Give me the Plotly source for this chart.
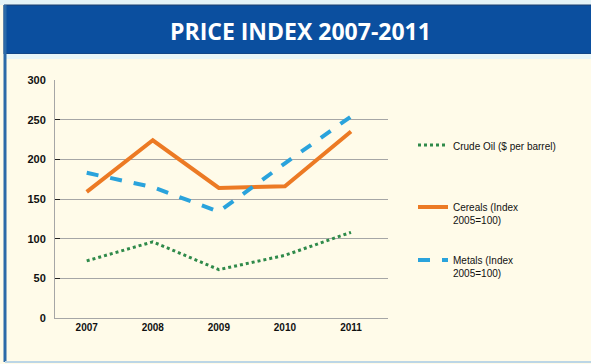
import plotly.graph_objects as go

years = ["2007", "2008", "2009", "2010", "2011"]
crude_oil = [72, 96, 61, 79, 108]
cereals = [159, 224, 164, 166, 235]
metals = [183, 165, 134, 195, 254]
y_ticks = [0, 50, 100, 150, 200, 250, 300]

W, H = 591, 364
L, R, T, B = 55, 203, 80, 46
pw, ph = W - L - R, H - T - B

def px_x(x):
    return (x - L) / pw

def px_y(y):
    return (H - B - y) / ph

BLUE = "#0b4f9f"
CREAM = "#fffbe9"
FONT = "Liberation Sans Narrow, Arial Narrow, Liberation Sans, sans-serif"

fig = go.Figure()
fig.add_trace(go.Scatter(x=years, y=crude_oil, mode="lines", name="Crude Oil ($ per barrel)",
                         line=dict(color="#2f8a4a", width=3, dash="dot"), legend="legend"))
fig.add_trace(go.Scatter(x=years, y=cereals, mode="lines", name="Cereals (Index<br>2005=100)",
                         line=dict(color="#ec7a24", width=4), legend="legend2"))
fig.add_trace(go.Scatter(x=years, y=metals, mode="lines", name="Metals (Index<br>2005=100)",
                         line=dict(color="#2aa3dc", width=4, dash="dash"), legend="legend3"))

shapes = [
    dict(type="rect", xref="paper", yref="paper", x0=px_x(0), x1=px_x(W), y0=px_y(5), y1=px_y(0),
         fillcolor="#e4f3f7", line_width=0, layer="below"),
    dict(type="rect", xref="paper", yref="paper", x0=px_x(4), x1=px_x(W + 5), y0=px_y(54), y1=px_y(5),
         fillcolor=BLUE, line=dict(color="#1d3f6e", width=1), layer="below"),
    dict(type="rect", xref="paper", yref="paper", x0=px_x(4), x1=px_x(W + 5), y0=px_y(59), y1=px_y(54),
         fillcolor="#e8f6f8", line_width=0, layer="below"),
    dict(type="line", xref="paper", yref="paper", x0=px_x(5), x1=px_x(5), y0=px_y(362), y1=px_y(5),
         line=dict(color="#2c6aa8", width=3)),
    dict(type="line", xref="paper", yref="paper", x0=px_x(5), x1=px_x(W), y0=px_y(362), y1=px_y(362),
         line=dict(color="#bcd6e6", width=2)),
]

leg_common = dict(xanchor="left", yanchor="top", bgcolor="rgba(0,0,0,0)",
                  font=dict(size=10, family=FONT), itemwidth=30, valign="top")

fig.update_layout(
    width=W, height=H,
    margin=dict(l=L, r=R, t=T, b=B),
    paper_bgcolor=CREAM, plot_bgcolor=CREAM,
    shapes=shapes,
    showlegend=True,
    font=dict(family=FONT, color="#111111"),
    annotations=[dict(text="<b>PRICE INDEX 2007-2011</b>", xref="paper", yref="paper",
                      x=px_x(300), y=px_y(31), showarrow=False, xanchor="center", yanchor="middle",
                      font=dict(family="Open Sans, Liberation Sans, sans-serif", size=23, color="white"))],
    legend=dict(x=px_x(413), y=px_y(132), **leg_common),
    legend2=dict(x=px_x(413), y=px_y(194), **leg_common),
    legend3=dict(x=px_x(413), y=px_y(247), **leg_common),
)

fig.update_xaxes(type="category", range=[-0.48, 4.56], showgrid=False, showline=True,
                 linecolor="#a6a6a6", linewidth=1, ticks="", fixedrange=True,
                 tickfont=dict(size=10, family=FONT, weight="bold"))
fig.update_yaxes(range=[0, 300], tickvals=y_ticks, showgrid=True, gridcolor="#a6a6a6", gridwidth=1,
                 showline=True, linecolor="#a6a6a6", linewidth=1, zeroline=False,
                 ticks="inside", ticklen=5, tickcolor="#222222",
                 tickfont=dict(size=11, family=FONT, weight="bold"), ticklabelstandoff=6)

fig.write_html("out.html")
